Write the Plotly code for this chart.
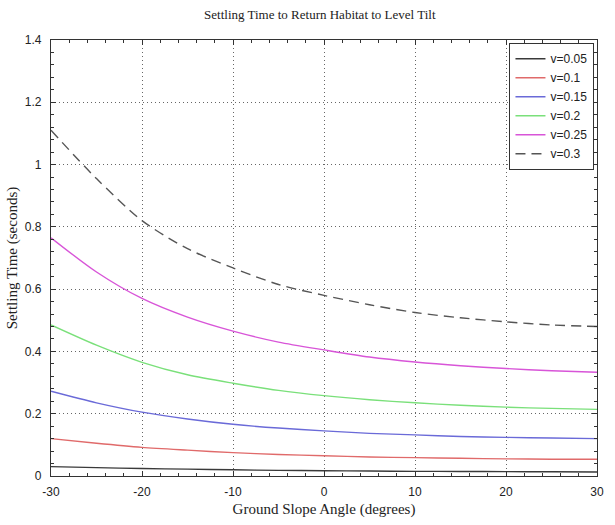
import plotly.graph_objects as go

# Ground slope angle (degrees)
angles = [-30, -25, -20, -15, -10, -5, 0, 5, 10, 15, 20, 25, 30]

# Settling time (seconds) for each velocity
t_v005 = [0.030, 0.027, 0.024, 0.022, 0.020, 0.018, 0.017, 0.016, 0.015, 0.0145, 0.014, 0.0135, 0.013]
t_v010 = [0.120, 0.105, 0.092, 0.083, 0.075, 0.069, 0.065, 0.061, 0.059, 0.057, 0.055, 0.054, 0.054]
t_v015 = [0.272, 0.235, 0.205, 0.183, 0.166, 0.154, 0.145, 0.137, 0.132, 0.127, 0.124, 0.122, 0.120]
t_v020 = [0.485, 0.420, 0.365, 0.325, 0.298, 0.275, 0.258, 0.245, 0.235, 0.227, 0.221, 0.217, 0.214]
t_v025 = [0.765, 0.655, 0.570, 0.510, 0.465, 0.430, 0.405, 0.382, 0.366, 0.354, 0.345, 0.338, 0.333]
t_v030 = [1.110, 0.955, 0.820, 0.730, 0.668, 0.615, 0.580, 0.550, 0.525, 0.508, 0.495, 0.485, 0.480]

series_names = ["v=0.05", "v=0.1", "v=0.15", "v=0.2", "v=0.25", "v=0.3"]
series_vals = [t_v005, t_v010, t_v015, t_v020, t_v025, t_v030]
colors = ["#3a3a3a", "#e06a6a", "#6a6ad8", "#7ae07a", "#d855d8", "#555555"]
dashes = ["solid", "solid", "solid", "solid", "solid", "10px,6px"]

x_ticks = [-30, -20, -10, 0, 10, 20, 30]
x_labels = ["-30", "-20", "-10", "0", "10", "20", "30"]
y_ticks = [0, 0.2, 0.4, 0.6, 0.8, 1, 1.2, 1.4]
y_labels = ["0", "0.2", "0.4", "0.6", "0.8", "1", "1.2", "1.4"]

fig = go.Figure()
for name, vals, col, dsh in zip(series_names, series_vals, colors, dashes):
    fig.add_trace(go.Scatter(
        x=angles, y=vals, mode="lines", name=name,
        line=dict(color=col, width=1.4, dash=dsh, shape="spline", smoothing=0.8),
    ))

axis_common = dict(
    showline=True, linecolor="#333333", linewidth=1.3, mirror="allticks",
    ticks="inside", ticklen=5, tickcolor="#333333",
    showgrid=True, gridcolor="#666666", griddash="1px,3px", gridwidth=1.2,
    zeroline=False,
    tickfont=dict(family="Liberation Sans, Arial", size=12, color="#222222"),
)

title_font = dict(family="Liberation Serif, Times New Roman", size=15, color="#222222")

fig.update_xaxes(
    range=[-30, 30], tickmode="array", tickvals=x_ticks, ticktext=x_labels,
    ticklabelstandoff=4,
    minor=dict(dtick=2, ticks="inside", ticklen=3, tickcolor="#333333", showgrid=False),
    title=dict(text="Ground Slope Angle (degrees)", font=title_font, standoff=5),
    **axis_common,
)
fig.update_yaxes(
    range=[0, 1.4], tickmode="array", tickvals=y_ticks, ticktext=y_labels,
    ticklabelstandoff=6,
    minor=dict(dtick=0.04, ticks="inside", ticklen=3, tickcolor="#333333", showgrid=False),
    title=dict(text="Settling Time (seconds)", font=title_font, standoff=3),
    **axis_common,
)

fig.update_layout(
    width=615, height=525,
    margin=dict(l=47, r=11, t=40, b=46),
    paper_bgcolor="white", plot_bgcolor="white",
    title=dict(text="Settling Time to Return Habitat to Level Tilt",
               font=dict(family="Liberation Serif, Times New Roman", size=13, color="#222222"),
               x=0.52, xanchor="center", y=0.972, yanchor="middle"),
    legend=dict(x=0.995, y=0.993, xanchor="right", yanchor="top",
                bordercolor="#333333", borderwidth=1.2, bgcolor="white",
                font=dict(family="Liberation Sans, Arial", size=12, color="#222222"),
                tracegroupgap=0, itemwidth=30),
    showlegend=True,
)

fig.write_html("out.html")
